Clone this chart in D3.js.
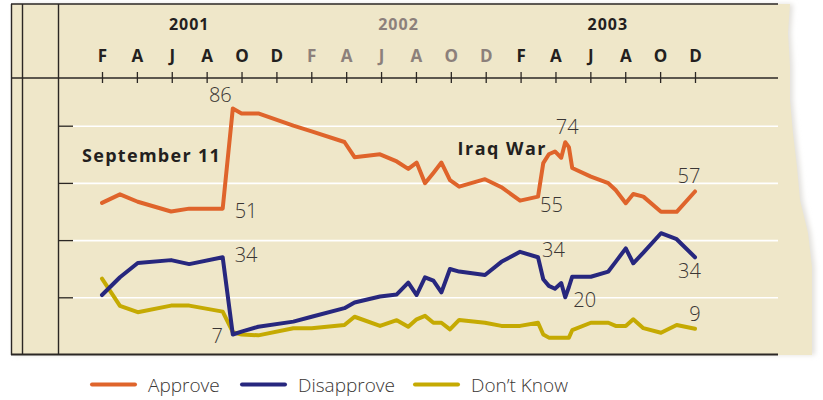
<!DOCTYPE html>
<html>
<head>
<meta charset="utf-8">
<script src="https://cdn.jsdelivr.net/npm/d3@7/dist/d3.min.js"></script>
<style>
  html, body { margin: 0; padding: 0; background: #ffffff; }
  svg { display: block; }
</style>
</head>
<body>
<svg id="chart" width="823" height="400"></svg>
<script>
// ---- data ----
// poll dates as months after February 2001
const pollMonths = [0, 1.03, 2.05, 3.96, 5.0, 6.92, 7.5, 8.0, 8.96, 10.97, 12.02, 13.9, 14.48, 15.94, 16.9,
  17.56, 18.04, 18.52, 19.0, 19.46, 19.95, 20.48, 21.96, 22.9, 23.97, 25.0, 25.3, 25.62, 25.97, 26.33,
  26.56, 26.77, 26.96, 28.03, 29.03, 29.45, 30.03, 30.46, 31.04, 32.05, 32.95, 34];
const approve = [53, 56, 53.4, 50, 51, 51, 86, 84.3, 84.3, 80, 78, 74.3, 69, 70, 67.5,
  64.9, 67.1, 59.9, 63.5, 67.1, 61, 58.7, 61.3, 58.5, 53.8, 55.2, 66.9, 70, 71, 68.8,
  74.2, 72.5, 65.2, 62.2, 59.9, 57.5, 52.9, 56.1, 55.2, 49.9, 49.9, 57];
const disapprove = [20.8, 27, 32, 33, 31.6, 34, 7, 8, 9.7, 11.5, 13.2, 16.2, 18.2, 20.3, 21,
  25.1, 20.8, 27, 25.8, 21.7, 29.9, 29, 27.8, 32.4, 35.9, 34, 26.3, 24, 23, 25,
  20, 23.6, 27.2, 27.2, 29, 32.4, 37.1, 31.9, 35.6, 42.4, 40.3, 34];
const dontKnow = [26.5, 17, 14.8, 17.1, 17.1, 15, 7.8, 7, 6.7, 9.2, 9.2, 10.3, 13.2, 10, 12,
  9.7, 12.3, 13.5, 11.1, 11.1, 8.8, 12.1, 11.1, 10, 10, 11.1, 7, 5.9, 5.9, 5.9,
  5.9, 5.9, 8.5, 11.1, 11.1, 10, 10, 12.3, 9.2, 7.6, 10.3, 9];

const seriesNames = ["Approve", "Disapprove", "Don\u2019t Know"];
const tickMonths = d3.range(0, 35, 2);
const monthLetters = ["F","A","J","A","O","D","F","A","J","A","O","D","F","A","J","A","O","D"];
const years = ["2001", "2002", "2003"];
const yearMidMonths = [5, 17, 29];
const gridValues = [20, 40, 60, 80];
const annotations = [
  { s: 0, i: 6,  text: "86" }, { s: 0, i: 5,  text: "51" }, { s: 1, i: 5,  text: "34" },
  { s: 1, i: 6,  text: "7" },  { s: 0, i: 30, text: "74" }, { s: 0, i: 25, text: "55" },
  { s: 1, i: 25, text: "34" }, { s: 1, i: 30, text: "20" }, { s: 0, i: 41, text: "57" },
  { s: 1, i: 41, text: "34" }, { s: 2, i: 41, text: "9" }
];
const events = ["September 11", "Iraq War"];

// ---- drawing ----
const colors = ["#df642b", "#27277e", "#c5aa02"];
const allSeries = [approve, disapprove, dontKnow];
const svg = d3.select("#chart");
const FONT = "'Open Sans', 'DejaVu Sans', sans-serif";

const x = d3.scaleLinear().domain([0, 34]).range([102, 695]);
const y = d3.scaleLinear().domain([0, 100]).range([354.5, 68.5]);

// paper background with ragged edge
const defs = svg.append("defs");
const f = defs.append("filter").attr("id", "soft").attr("x", "-5%").attr("y", "-5%").attr("width", "110%").attr("height", "110%");
f.append("feGaussianBlur").attr("stdDeviation", 2.5);
const paperPath = "M11,4 L790,4 L788,33 L790,67 L790,100 L793,133 L797,167 L800,200 L808,233 L812,267 L812,300 L812,355 L11,355 Z";
svg.append("path").attr("d", paperPath).attr("fill", "#e2e0dc").attr("filter", "url(#soft)")
  .attr("transform", "translate(3,0)");
svg.append("path").attr("d", paperPath).attr("fill", "#efe7c9");

// gridlines
svg.append("g").attr("transform", "translate(73,0)")
  .call(d3.axisLeft(y).tickValues(gridValues).tickSize(-(778 - 73)).tickFormat(""))
  .call(g => g.select(".domain").remove())
  .call(g => g.selectAll("line").attr("stroke", "#ffffff").attr("stroke-width", 1.6));

// left ticks
svg.append("g").attr("transform", "translate(73,0)")
  .call(d3.axisLeft(y).tickValues(gridValues).tickSize(15).tickFormat(""))
  .call(g => g.select(".domain").remove())
  .call(g => g.selectAll("line").attr("stroke", "#2b2724").attr("stroke-width", 1.3));

// frame
const frame = svg.append("g").attr("stroke", "#2b2724").attr("fill", "none");
frame.append("line").attr("x1", 11).attr("x2", 778).attr("y1", 4).attr("y2", 4).attr("stroke-width", 1.5);
frame.append("line").attr("x1", 11).attr("x2", 778).attr("y1", 78).attr("y2", 78).attr("stroke-width", 1.5);
frame.append("line").attr("x1", 11).attr("x2", 778).attr("y1", 354.5).attr("y2", 354.5).attr("stroke-width", 2);
[11.5, 22.5, 58.5].forEach(xx => frame.append("line").attr("x1", xx).attr("x2", xx).attr("y1", 4).attr("y2", 355).attr("stroke-width", 1.4));

// top month axis
const topAxis = svg.append("g").attr("transform", "translate(0,78)")
  .call(d3.axisTop(x).tickValues(tickMonths).tickSize(6).tickPadding(10)
    .tickFormat((d, i) => monthLetters[i]))
  .call(g => g.select(".domain").remove());
topAxis.selectAll("line").attr("y1", 5).attr("stroke", "#2b2724").attr("stroke-width", 1.3);
topAxis.selectAll("text")
  .attr("font-family", FONT).attr("font-size", 17).attr("font-weight", 700)
  .attr("fill", (d, i) => (i >= 6 && i < 12) ? "#8c807b" : "#231f20");

// year labels
svg.append("g").selectAll("text").data(years).join("text")
  .attr("x", (d, i) => x(yearMidMonths[i])).attr("y", 30)
  .attr("text-anchor", "middle")
  .attr("font-family", FONT).attr("font-size", 16).attr("font-weight", 700)
  .attr("letter-spacing", 1)
  .attr("fill", (d, i) => i === 1 ? "#8c807b" : "#231f20")
  .text(d => d);

// lines
const line = d3.line().x(d => x(d[0])).y(d => y(d[1]));
allSeries.slice().reverse().forEach((vals, ri) => {
  const si = allSeries.length - 1 - ri;
  svg.append("path")
    .datum(pollMonths.map((m, i) => [m, vals[i]]))
    .attr("d", line)
    .attr("fill", "none")
    .attr("stroke", colors[si])
    .attr("stroke-width", 4)
    .attr("stroke-linejoin", "round")
    .attr("stroke-linecap", "round");
});

// value annotations
const annOffsets = [
  { dx: -1, dy: -6.5, a: "end" }, { dx: 12, dy: 9.5, a: "start" }, { dx: 12, dy: 5, a: "start" },
  { dx: -10, dy: 8.5, a: "end" }, { dx: 2, dy: -8, a: "middle" }, { dx: 2, dy: 15, a: "start" },
  { dx: 4, dy: 0, a: "start" }, { dx: 8, dy: 10, a: "start" }, { dx: -6, dy: -8.5, a: "middle" },
  { dx: -5.5, dy: 21, a: "middle" }, { dx: 0, dy: -8, a: "middle" }
];
svg.append("g").selectAll("text").data(annotations).join("text")
  .attr("x", (d, k) => x(pollMonths[d.i]) + annOffsets[k].dx)
  .attr("y", (d, k) => y(allSeries[d.s][d.i]) + annOffsets[k].dy)
  .attr("text-anchor", (d, k) => annOffsets[k].a)
  .attr("font-family", FONT).attr("font-size", 20).attr("font-weight", 300)
  .attr("fill", "#3a3634")
  .text(d => d.text);

// event labels
svg.append("text").attr("x", 82).attr("y", 161.5)
  .attr("font-family", FONT).attr("font-size", 18).attr("font-weight", 700)
  .attr("letter-spacing", 1.3).attr("fill", "#231f20").text(events[0]);
svg.append("text").attr("x", 457.5).attr("y", 155)
  .attr("font-family", FONT).attr("font-size", 18).attr("font-weight", 700)
  .attr("letter-spacing", 1.5).attr("fill", "#231f20").text(events[1]);

// legend
const legendX = [92, 242, 415];
const leg = svg.append("g").selectAll("g").data(seriesNames).join("g")
  .attr("transform", (d, i) => `translate(${legendX[i]},384.5)`);
leg.append("line").attr("x1", 0).attr("x2", 43).attr("y1", 0).attr("y2", 0)
  .attr("stroke", (d, i) => colors[i]).attr("stroke-width", 4).attr("stroke-linecap", "round");
leg.append("text").attr("x", 56).attr("y", 7)
  .attr("font-family", FONT).attr("font-size", 19).attr("font-weight", 300)
  .attr("fill", "#3a3634").text(d => d);
</script>
</body>
</html>
